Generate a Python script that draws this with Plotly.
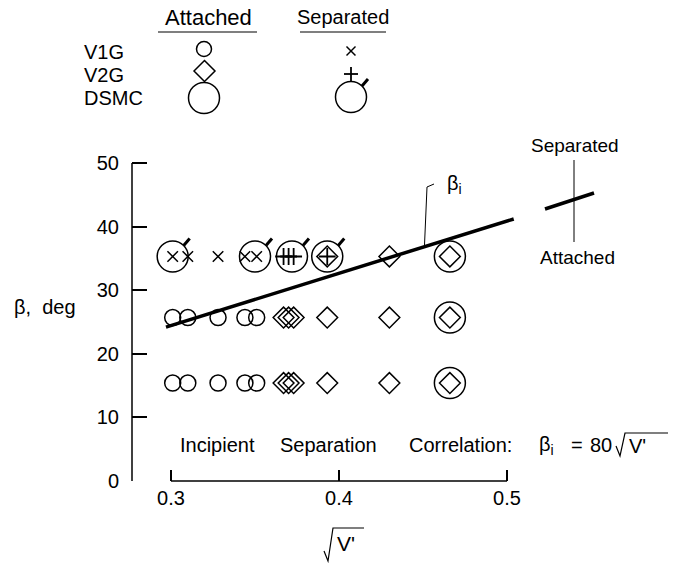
import plotly.graph_objects as go

# ---------------- data ----------------
v1g_x = [0.301, 0.310, 0.328, 0.344, 0.351]          # sqrt(V') of V1G cases
v1g_att_beta = [15.4, 25.7]                          # rows where V1G attached
v1g_sep_beta = [35.3]                                # rows where V1G separated

v2g_att_rows = {15.4: [0.367, 0.370, 0.373, 0.393, 0.430, 0.466],
                25.7: [0.367, 0.370, 0.373, 0.393, 0.430, 0.466],
                35.3: [0.393, 0.430, 0.466]}
v2g_sep_rows = {35.3: [0.367, 0.370, 0.373, 0.393]}

dsmc_att_x = [0.466, 0.466, 0.466]
dsmc_att_beta = [15.4, 25.7, 35.3]
dsmc_sep_x = [0.301, 0.350, 0.372, 0.393]
dsmc_sep_beta = [35.3, 35.3, 35.3, 35.3]

corr_x = [0.297, 0.504]          # incipient separation correlation line
corr_beta = [24.2, 41.2]

x_ticks = [0.3, 0.4, 0.5]
y_ticks = [0, 10, 20, 30, 40, 50]

# ---------------- layout geometry ----------------
W, H = 673, 564
L, R, T, B = 132, 13, 130, 83
pw, ph = W - L - R, H - T - B
XS = 1680.0      # px per unit x
YS = 6.36        # px per unit beta
x0 = 0.3 - (171 - L) / XS
x1 = x0 + pw / XS
y1 = ph / YS

FONT = "Liberation Sans, Arial, Helvetica, sans-serif"
BLK = "black"


def PX(px):
    return (px - L) / pw


def PY(py):
    return (H - B - py) / ph


fig = go.Figure()


def add_pts(xs, ys, sym, size, lw=1.5):
    fig.add_trace(go.Scatter(x=xs, y=ys, mode="markers", hoverinfo="skip",
                             marker=dict(symbol=sym, size=size, color=BLK,
                                         line=dict(width=lw, color=BLK))))


# V1G attached
xs, ys = [], []
for b in v1g_att_beta:
    xs += v1g_x
    ys += [b] * len(v1g_x)
add_pts(xs, ys, "circle-open", 16)
# V1G separated
xs, ys = [], []
for b in v1g_sep_beta:
    xs += v1g_x
    ys += [b] * len(v1g_x)
add_pts(xs, ys, "x-thin-open", 10.5)
# V2G attached
xs, ys = [], []
for b, xl in v2g_att_rows.items():
    xs += xl
    ys += [b] * len(xl)
add_pts(xs, ys, "diamond-open", 16)
# V2G separated
xs, ys = [], []
for b, xl in v2g_sep_rows.items():
    xs += xl
    ys += [b] * len(xl)
add_pts(xs, ys, "cross-thin-open", 12, lw=1.8)
# DSMC attached / separated
add_pts(dsmc_att_x, dsmc_att_beta, "circle-open", 31)
add_pts(dsmc_sep_x, dsmc_sep_beta, "circle-open", 31)
# correlation line
fig.add_trace(go.Scatter(x=corr_x, y=corr_beta, mode="lines", hoverinfo="skip",
                         line=dict(color=BLK, width=3.5)))

shapes = []


def pline(pts, width=1.5, close=False):
    path = "M " + " L ".join("{} {}".format(PX(a), PY(b)) for a, b in pts)
    if close:
        path += " Z"
    shapes.append(dict(type="path", xref="paper", yref="paper", path=path,
                       line=dict(color=BLK, width=width)))


def pcircle(cx, cy, r, width=1.5):
    shapes.append(dict(type="circle", xref="paper", yref="paper",
                       x0=PX(cx - r), x1=PX(cx + r), y0=PY(cy + r), y1=PY(cy - r),
                       line=dict(color=BLK, width=width)))


# ---- key symbols ----
pcircle(204, 49, 7.5)
pline([(194, 71), (204.5, 60.5), (215, 71), (204.5, 81.5)], close=True)
pcircle(204, 98, 15.5)
pline([(346.5, 46.5), (355.5, 55.5)])
pline([(355.5, 46.5), (346.5, 55.5)])
pline([(344, 74), (358, 74)], width=1.8)
pline([(351, 67), (351, 81)], width=1.8)
pcircle(351, 97, 15.5)
pline([(362, 86), (368, 79)], width=3)

# axis lines
shapes.append(dict(type="line", xref="paper", yref="y", x0=0, x1=0, y0=0, y1=50,
                   line=dict(color=BLK, width=1.5)))
shapes.append(dict(type="line", xref="x", yref="paper", x0=0.3, x1=0.5, y0=0, y1=0,
                   line=dict(color=BLK, width=1.5)))
# flags on separated DSMC circles
for fx, fy in zip(dsmc_sep_x, dsmc_sep_beta):
    shapes.append(dict(type="line", xref="x", yref="y", xsizemode="pixel", ysizemode="pixel",
                       xanchor=fx, yanchor=fy, x0=11, y0=11, x1=17, y1=18,
                       line=dict(color=BLK, width=3)))
# key underlines
pline([(158, 32), (257, 32)], width=1.2)
pline([(300, 32), (386, 32)], width=1.2)
# beta_i leader
pline([(424.5, 245), (427, 187), (434, 184)], width=1)
# right-hand separated/attached indicator
pline([(574, 160), (574, 242)], width=1)
pline([(545, 209), (594, 193)], width=3.5)
# radical signs
pline([(324, 551), (328, 561), (333, 528), (364, 528)], width=1.2)   # x-axis title
pline([(616, 446), (620, 456), (625, 433), (668, 433)], width=1.2)   # correlation text

ann = []


def text(px, py, s, size=20, xanchor="center"):
    ann.append(dict(x=PX(px), y=PY(py), xref="paper", yref="paper", text=s, showarrow=False,
                    xanchor=xanchor, yanchor="middle", font=dict(family=FONT, size=size, color=BLK)))


text(208, 17, "Attached", size=22)
text(343, 17, "Separated", size=20)
text(82, 52, "V1G", size=20, xanchor="left")
text(82, 75, "V2G", size=20, xanchor="left")
text(82, 98, "DSMC", size=20, xanchor="left")
text(575, 145, "Separated", size=19)
text(577, 257, "Attached", size=19)
text(454, 184, "β<sub>i</sub>", size=20)
text(45, 307, "β,  deg", size=20)
text(178, 445, "Incipient", xanchor="left")
text(278, 445, "Separation", xanchor="left")
text(407, 445, "Correlation:", xanchor="left")
text(537, 445, "β<sub>i</sub>", xanchor="left")
text(569, 445, "=", xanchor="left")
text(588, 445, "80", xanchor="left")
text(627, 446, "V'", xanchor="left")
text(335, 543, "V'", size=21, xanchor="left")

fig.update_layout(
    width=W, height=H, margin=dict(l=L, r=R, t=T, b=B),
    paper_bgcolor="white", plot_bgcolor="white", showlegend=False,
    font=dict(family=FONT, size=20, color=BLK),
    shapes=shapes, annotations=ann,
    xaxis=dict(range=[x0, x1], tickvals=x_ticks, ticktext=[str(v) for v in x_ticks],
               ticks="inside", ticklen=11, tickwidth=1.5, tickcolor=BLK,
               showgrid=False, zeroline=False, showline=False, ticklabelstandoff=3,
               tickfont=dict(size=20)),
    yaxis=dict(range=[0, y1], tickvals=y_ticks, ticks="inside", ticklen=15, tickwidth=1.5,
               tickcolor=BLK, showgrid=False, zeroline=False, showline=False,
               ticklabelstandoff=12, tickfont=dict(size=20)),
)

fig.write_html("out.html")
